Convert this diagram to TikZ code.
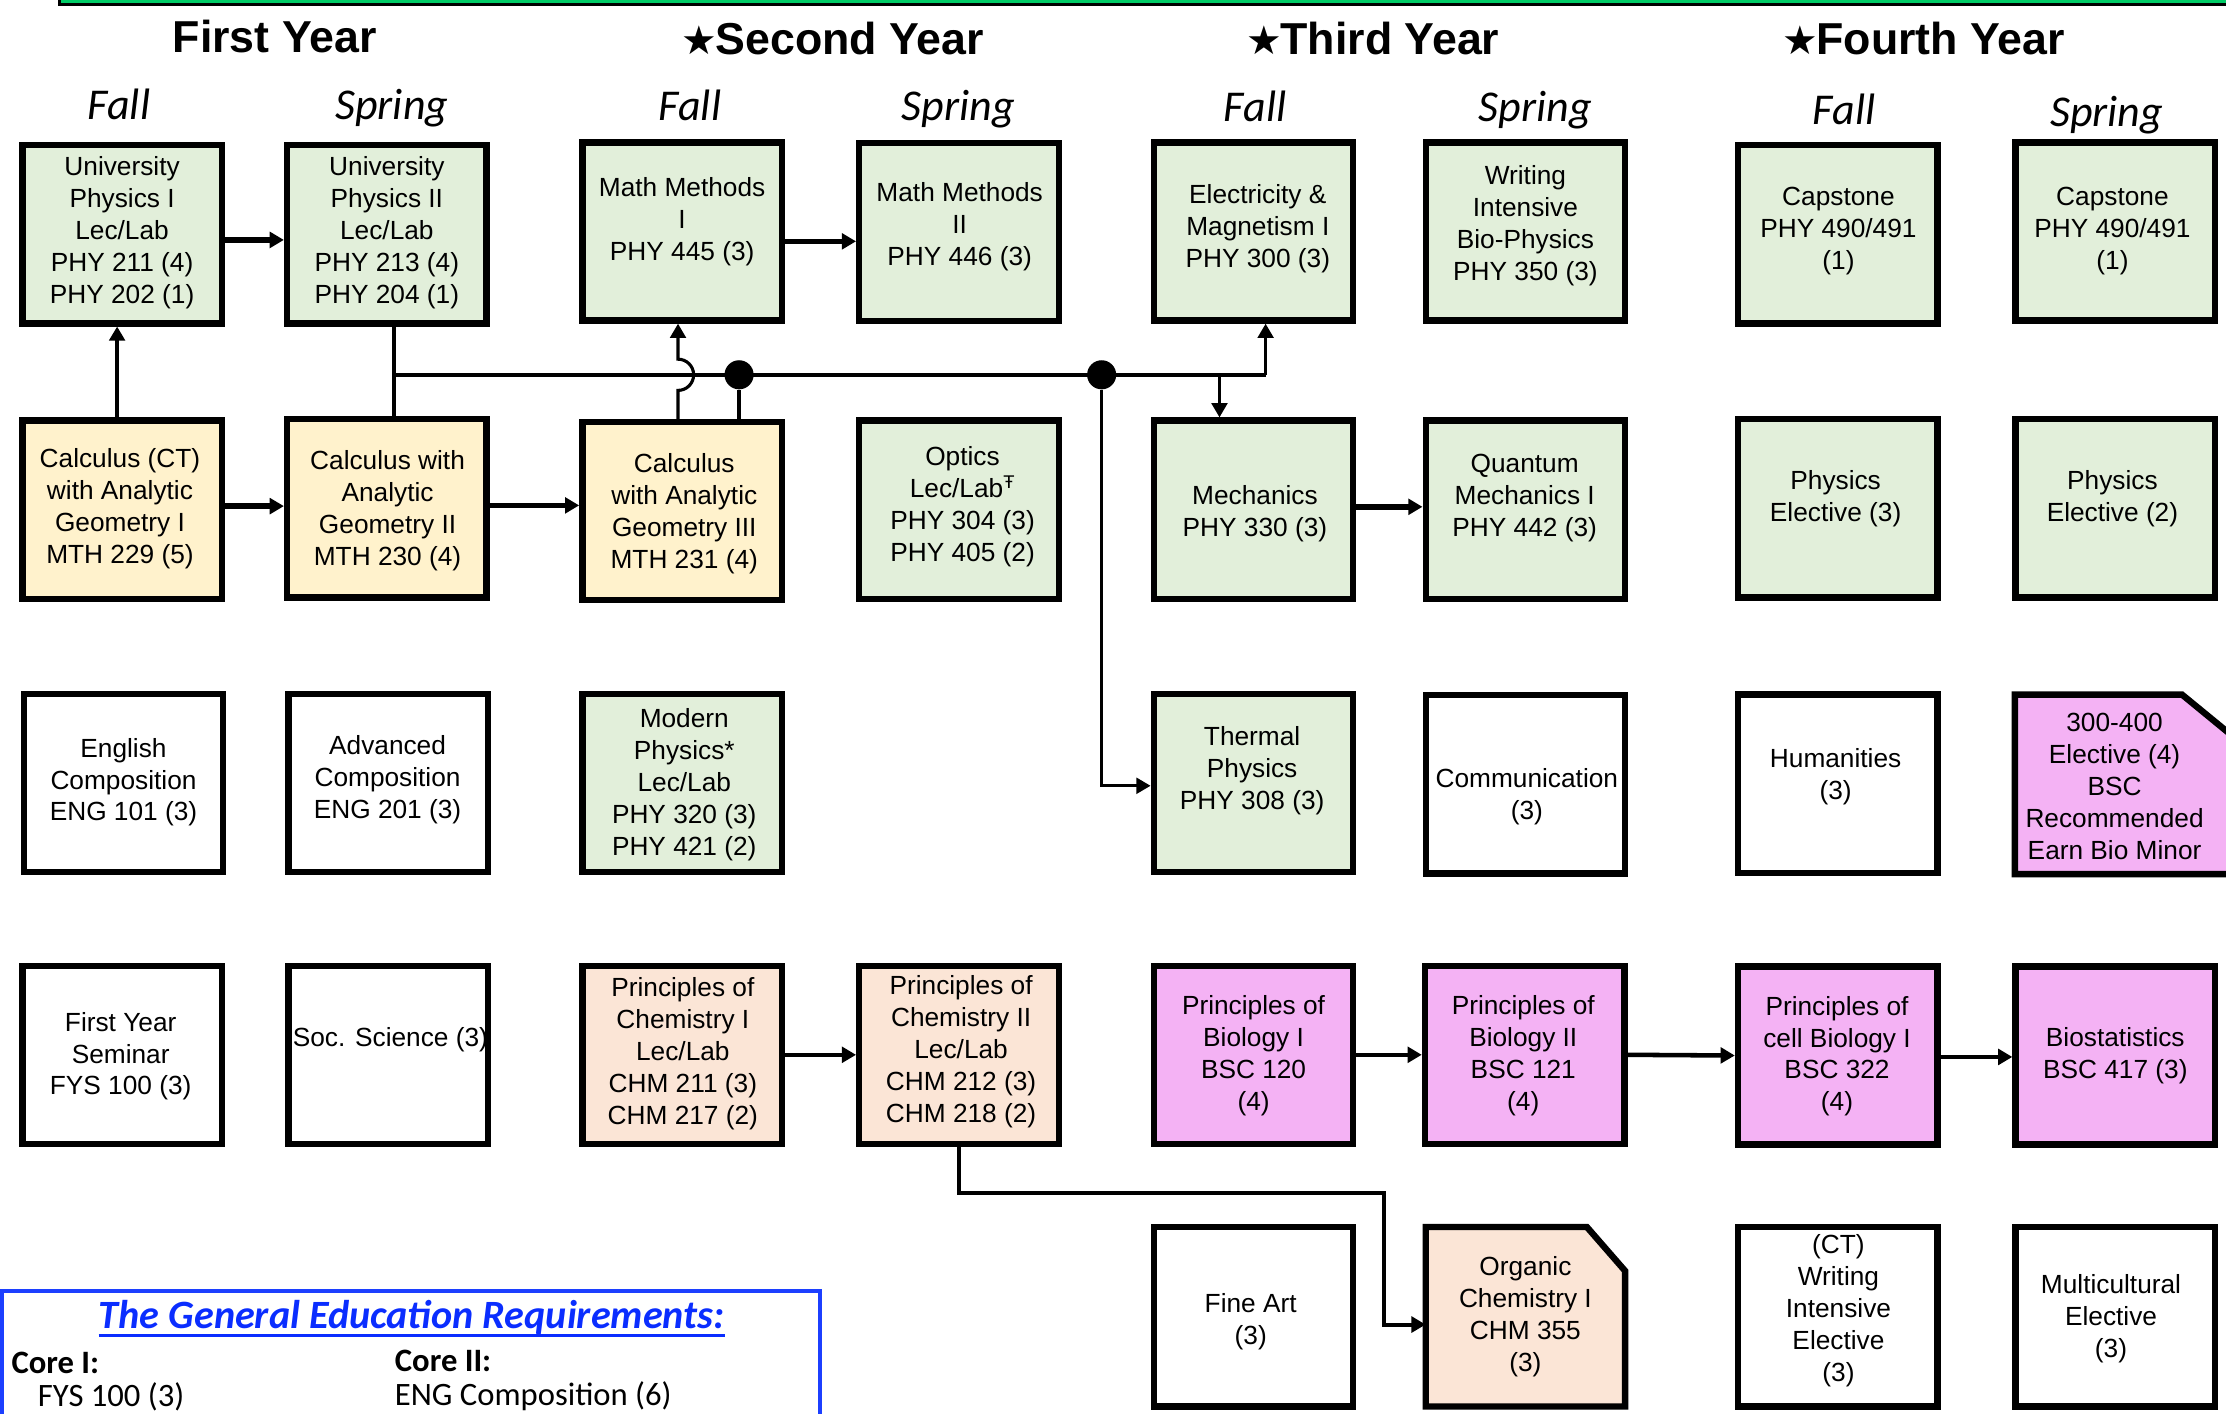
\documentclass[tikz,border=0pt]{standalone}
\usepackage{fontspec}
\setmainfont{Liberation Sans}
\newfontfamily\carl{Carlito}
\newfontfamily\djv{DejaVu Sans}
\usetikzlibrary{arrows.meta,calc}
\definecolor{cgreen}{HTML}{E2EFDA}
\definecolor{cyellow}{HTML}{FFF2CC}
\definecolor{cpeach}{HTML}{FBE5D6}
\definecolor{cpink}{HTML}{F4B2F4}
\definecolor{barg}{HTML}{00CC66}
\definecolor{gblue}{HTML}{0A2DFF}
\definecolor{bblue}{HTML}{1C3FFF}
\newcommand{\hstar}{{\djv\mdseries\fontsize{28}{28}\selectfont ★}\kern-1pt}
\newcommand{\crsbox}[7]{%
  \node[box,fill=#4] (#1) at (#2,#3) {};
  \node[ctext] (#1-t) at (#5,#6+1.5) {#7};
}
\tikzset{
  box/.style={draw=black,line width=4.5pt,minimum width=140.5pt,minimum height=125.5pt,inner sep=0pt},
  ctext/.style={align=center,inner sep=0pt,font=\fontsize{18.5}{22.5}\selectfont},
  yearlbl/.style={anchor=base,inner sep=0pt,font=\fontsize{31.5}{36}\selectfont\bfseries},
  semlbl/.style={anchor=base,inner sep=0pt,font=\carl\itshape\fontsize{31}{36}\selectfont},
  harr/.style={line width=3.8pt,-{Triangle[length=10pt,width=11pt]}},
  harrb/.style={line width=3.2pt,-{Triangle[length=10pt,width=11pt]}},
  varr/.style={line width=2.2pt,-{Triangle[length=10pt,width=11pt]}},
  rarr/.style={line width=2.8pt,-{Triangle[length=10pt,width=11pt]}},
  vline/.style={line width=2.5pt},
  busline/.style={line width=2.5pt},
  jdot/.style={circle,fill=black,inner sep=0pt,minimum size=20.5pt},
  gtext/.style={anchor=base west,inner sep=0pt,font=\carl\fontsize{23}{26}\selectfont},
}
\begin{document}
\begin{tikzpicture}[x=1pt,y=-1pt]
\useasboundingbox (0,0) rectangle (1568,996);
% top bar
\filldraw[draw=black,line width=2.3pt,fill=barg] (42,-20) rectangle (1620,3);
% year headings
\node[yearlbl] (y1) at (193.5,37) {First Year};
\node[yearlbl] (y2) at (586.5,38.5) {\hstar Second Year};
\node[yearlbl] (y3) at (967,38.5) {\hstar Third Year};
\node[yearlbl] (y4) at (1355,38.5) {\hstar Fourth Year};
% semesters
\node[semlbl] (s1) at (83.8,84.5) {Fall};
\node[semlbl] (s2) at (276,84.5) {Spring};
\node[semlbl] (s3) at (486,85) {Fall};
\node[semlbl] (s4) at (675,85) {Spring};
\node[semlbl] (s5) at (884,85.7) {Fall};
\node[semlbl] (s6) at (1081.5,85.7) {Spring};
\node[semlbl] (s7) at (1299,88) {Fall};
\node[semlbl] (s8) at (1484,89) {Spring};
% row 1
\crsbox{up1}{86}{165}{cgreen}{86}{162.5}{University\\Physics I\\Lec/Lab\\PHY 211 (4)\\PHY 202 (1)}
\crsbox{up2}{272.5}{165}{cgreen}{272.5}{162.5}{University\\Physics II\\Lec/Lab\\PHY 213 (4)\\PHY 204 (1)}
\crsbox{mm1}{480.5}{163}{cgreen}{480.5}{154.5}{Math Methods\\I\\PHY 445 (3)}
\crsbox{mm2}{675.5}{163.5}{cgreen}{676}{158}{Math Methods\\II\\PHY 446 (3)}
\crsbox{em1}{883}{163}{cgreen}{886}{159.5}{Electricity \&\\Magnetism I\\PHY 300 (3)}
\crsbox{wi}{1074.5}{163}{cgreen}{1074.5}{157.5}{Writing\\Intensive\\Bio-Physics\\PHY 350 (3)}
\crsbox{cap1}{1294.5}{165}{cgreen}{1295}{161.5}{Capstone\\PHY 490/491\\(1)}
\crsbox{cap2}{1490}{163}{cgreen}{1488}{161.5}{Capstone\\PHY 490/491\\(1)}
% row 2
\crsbox{calc1}{86}{359}{cyellow}{84.5}{357}{Calculus (CT)\\with Analytic\\Geometry I\\MTH 229 (5)}
\crsbox{calc2}{272.5}{358}{cyellow}{273}{358.5}{Calculus with\\Analytic\\Geometry II\\MTH 230 (4)}
\crsbox{calc3}{480.5}{360}{cyellow}{482}{360.5}{Calculus\\with Analytic\\Geometry III\\MTH 231 (4)}
\crsbox{optics}{675.5}{359}{cgreen}{678}{355.5}{Optics\\Lec/Lab\textsuperscript{Ŧ}\\PHY 304 (3)\\PHY 405 (2)}
\crsbox{mech}{883}{359}{cgreen}{884}{360.5}{Mechanics\\PHY 330 (3)}
\crsbox{qm}{1074.5}{359}{cgreen}{1074}{349.5}{Quantum\\Mechanics I\\PHY 442 (3)}
\crsbox{pe3}{1294.5}{358}{cgreen}{1293}{350}{Physics\\Elective (3)}
\crsbox{pe2}{1490}{358}{cgreen}{1488}{350}{Physics\\Elective (2)}
% row 3
\crsbox{eng1}{87}{551.5}{white}{87}{549.5}{English\\Composition\\ENG 101 (3)}
\crsbox{adv}{273.5}{551.5}{white}{273}{548}{Advanced\\Composition\\ENG 201 (3)}
\crsbox{modern}{480.5}{551.5}{cgreen}{482}{551}{Modern\\Physics*\\Lec/Lab\\PHY 320 (3)\\PHY 421 (2)}
\crsbox{thermal}{883}{551.5}{cgreen}{882}{541.5}{Thermal\\Physics\\PHY 308 (3)}
\crsbox{comm}{1074.5}{552.5}{white}{1075.5}{559.5}{Communication\\(3)}
\crsbox{hum}{1294.5}{552}{white}{1293}{545.5}{Humanities\\(3)}
\node[box,draw=none,fill=none,outer sep=0pt,minimum width=170.75pt,minimum height=126.5pt] (bscel) at (1504.6,552.5) {};
\filldraw[line width=4.5pt,fill=cpink] (bscel.south west) -- (bscel.north west) -- ($(bscel.north west)+(117.75,0)$) -- ($(bscel.north east)+(0,43.5)$) -- (bscel.south east) -- cycle;
\node[ctext] (bscel-t) at (1489.5,554) {300-400\\Elective (4)\\BSC\\Recommended\\Earn Bio Minor};
% row 4
\crsbox{fys}{86}{743}{white}{85}{742.5}{First Year\\Seminar\\FYS 100 (3)}
\crsbox{soc}{273.5}{743}{white}{275}{731}{Soc. Science (3)}
\crsbox{chem1}{480.5}{743}{cpeach}{481}{740.5}{Principles of\\Chemistry I\\Lec/Lab\\CHM 211 (3)\\CHM 217 (2)}
\crsbox{chem2}{675.5}{743}{cpeach}{677}{739.5}{Principles of\\Chemistry II\\Lec/Lab\\CHM 212 (3)\\CHM 218 (2)}
\crsbox{bio1}{883}{743}{cpink}{883}{742}{Principles of\\Biology I\\BSC 120\\(4)}
\crsbox{bio2}{1074}{743}{cpink}{1073}{742}{Principles of\\Biology II\\BSC 121\\(4)}
\crsbox{cell}{1294.5}{743.5}{cpink}{1294}{742.5}{Principles of\\cell Biology I\\BSC 322\\(4)}
\crsbox{biostat}{1490}{743.5}{cpink}{1490}{742}{Biostatistics\\BSC 417 (3)}
% row 5
\crsbox{fineart}{883}{927.5}{white,minimum height=126.5pt}{881}{929.5}{Fine Art\\(3)}
\node[box,draw=none,fill=none,outer sep=0pt,minimum height=126.5pt] (ochem) at (1074.5,927.5) {};
\filldraw[line width=4.5pt,fill=cpeach] (ochem.south west) -- (ochem.north west) -- ($(ochem.north east)+(-27,0)$) -- ($(ochem.north east)+(0,31)$) -- (ochem.south east) -- cycle;
\node[ctext] (ochem-t) at (1074.5,927.5) {Organic\\Chemistry I\\CHM 355\\(3)};
\crsbox{ctw}{1294.5}{927.5}{white,minimum height=126.5pt}{1295}{922}{(CT)\\Writing\\Intensive\\Elective\\(3)}
\crsbox{multi}{1490}{927.5}{white,minimum height=126.5pt}{1487}{927.5}{Multicultural\\Elective\\(3)}
% connectors
\coordinate (b0) at (277.5,264);
\coordinate (b1) at (891.5,264);
\coordinate (b2) at (859,264);
\coordinate (hop) at (477.6,264);
\coordinate (k1) at (975,840);
\node[jdot] (d1) at (520.6,264) {};
\node[jdot] (d2) at (776,264) {};
\draw[harr] ($(up1.east)+(0,4)$) -- ($(up2.west)+(0,4)$);
\draw[harr] ($(mm1.east)+(0,7)$) -- ($(mm2.west)+(0,6.5)$);
\draw[varr,line width=2.8pt] ($(calc1.north)+(-3.5,0)$) -- ($(up1.south)+(-3.5,0)$);
\draw[harr] ($(calc1.east)+(0,-2.5)$) -- ($(calc2.west)+(0,-1.5)$);
\draw[harr] ($(calc2.east)+(0,-2)$) -- ($(calc3.west)+(0,-4)$);
\draw[vline] (up2.south -| b0) -- (calc2.north -| b0);
\draw[busline] (b0) -- (b1);
\draw[varr] (b1) -- (em1.south -| b1);
\draw[varr] (b2) -- (mech.north -| b2);
\draw[vline] (calc3.north -| d1) -- (d1);
\draw[varr] (calc3.north -| hop) -- ($(hop)+(0,11)$) arc[start angle=90,end angle=-90,radius=11] -- (mm1.south -| hop);
\draw[varr] (d2) |- ($(thermal.west)+(0,2)$);
\draw[harr] ($(mech.east)+(0,-2)$) -- ($(qm.west)+(0,-2)$);
\draw[harrb] (chem1.east) -- (chem2.west);
\draw[harrb] (bio1.east) -- (bio2.west);
\draw[harrb] (bio2.east) -- (cell.west);
\draw[harrb] ($(cell.east)+(0,1)$) -- ($(biostat.west)+(0,1)$);
\draw[rarr] (chem2.south) |- (k1) |- ($(ochem.west)+(0,5.5)$);
% general education box
\node[draw=bblue,line width=3pt,minimum width=576pt,minimum height=120pt,inner sep=0pt,outer sep=0pt] (gened) at (289.5,969.5) {};
\node[anchor=base,inner sep=0pt,text=gblue,font=\carl\bfseries\itshape\fontsize{28.3}{32}\selectfont] (gtitle) at (290,935.5) {The General Education Requirements:};
\draw[gblue,line width=2.2pt] ($(gtitle.base west)+(0,5)$) -- ($(gtitle.base east)+(0,5)$);
\node[gtext,font=\carl\bfseries\fontsize{23}{26}\selectfont] (core1) at (8,967.5) {Core I:};
\node[gtext,font=\carl\bfseries\fontsize{23}{26}\selectfont] (core2) at (278,966) {Core II:};
\node[gtext] (fysg) at (26.5,990.5) {FYS 100 (3)};
\node[gtext] (engc) at (278,990) {ENG Composition (6)};
\end{tikzpicture}
\end{document}
